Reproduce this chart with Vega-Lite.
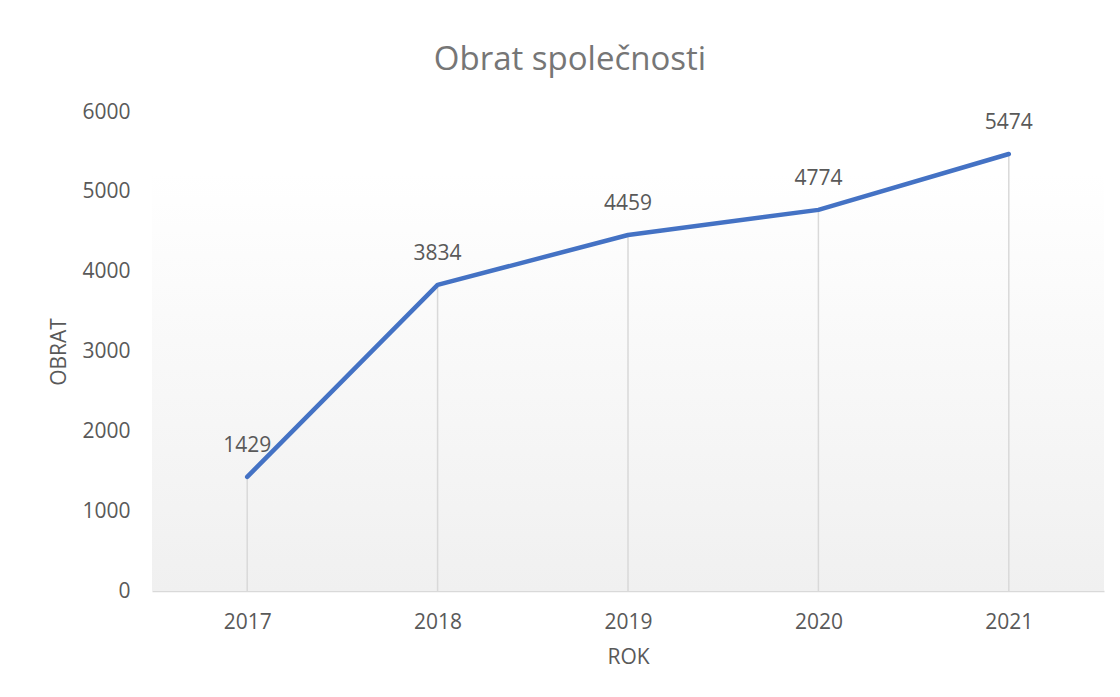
{
  "$schema": "https://vega.github.io/schema/vega-lite/v6.json",
  "autosize": "none",
  "width": 952,
  "height": 479,
  "padding": {"left": 152, "top": 112, "right": 16, "bottom": 106},
  "background": "#ffffff",
  "config": {
    "view": {"stroke": null},
    "font": "Open Sans",
    "axis": {"labelFont": "Open Sans", "titleFont": "Open Sans", "labelColor": "#595959", "titleColor": "#595959", "labelFontSize": 21, "titleFontSize": 21, "titleFontWeight": "normal", "grid": false, "ticks": false}
  },
  "title": {"text": "Obrat společnosti", "fontSize": 33, "font": "Open Sans", "fontWeight": "normal", "color": "#767676", "anchor": "middle", "dx": -58, "offset": 24},
  "data": {"values": [
    {"ROK": "2017", "OBRAT": 1429},
    {"ROK": "2018", "OBRAT": 3834},
    {"ROK": "2019", "OBRAT": 4459},
    {"ROK": "2020", "OBRAT": 4774},
    {"ROK": "2021", "OBRAT": 5474}
  ]},
  "encoding": {
    "x": {"field": "ROK", "type": "ordinal", "title": "ROK", "scale": {"type": "point", "padding": 0.5},
      "axis": {"labelAngle": 0, "domainColor": "#d9d9d9", "domainWidth": 1.5, "labelPadding": 20, "titlePadding": 14}},
    "y": {"field": "OBRAT", "type": "quantitative", "title": "OBRAT", "scale": {"domain": [0, 6000], "nice": false},
      "axis": {"values": [0, 1000, 2000, 3000, 4000, 5000, 6000], "format": "d", "domain": false, "labelPadding": 22, "titlePadding": 12}}
  },
  "layer": [
    {
      "mark": {"type": "rect", "color": {"gradient": "linear", "x1": 0, "y1": 0, "x2": 0, "y2": 1, "stops": [{"offset": 0, "color": "#ffffff"}, {"offset": 1, "color": "#f0f0f0"}]}},
      "encoding": {"x": null, "y": {"datum": 5240, "type": "quantitative"}, "y2": {"datum": 0}}
    },
    {
      "mark": {"type": "rule", "color": "#d9d9d9", "strokeWidth": 1.5},
      "encoding": {"y": {"datum": 0, "type": "quantitative"}, "y2": {"field": "OBRAT"}}
    },
    {
      "mark": {"type": "line", "color": "#4472C4", "strokeWidth": 4.5, "strokeCap": "round", "strokeJoin": "round"}
    },
    {
      "mark": {"type": "text", "fontSize": 21, "color": "#595959", "baseline": "alphabetic", "dy": -25, "font": "Open Sans"},
      "encoding": {"text": {"field": "OBRAT", "type": "quantitative", "format": "d"}}
    }
  ]
}
